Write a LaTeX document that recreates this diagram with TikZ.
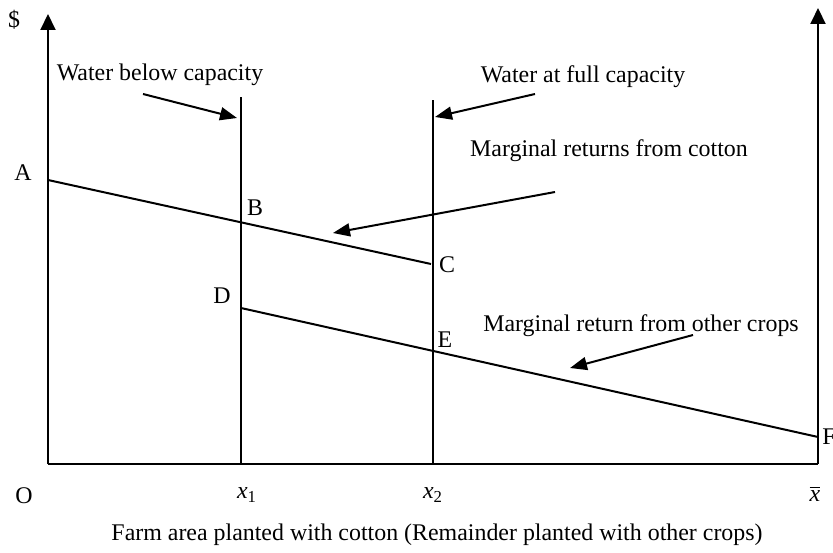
\documentclass[tikz,border=0pt]{standalone}
\usepackage{fontspec}
\setmainfont{Liberation Serif}
\usetikzlibrary{arrows.meta}

\tikzset{
    curve/.style={line width=1pt, black},
    axis/.style={line width=1pt, -{Triangle[length=8pt,width=7.5pt]}},
    pointer/.style={line width=1pt, -{Triangle[length=8.5pt,width=6.5pt]}},
    lbl/.style={inner sep=0pt, font=\fontsize{11.95}{14}\selectfont}
}

\begin{document}
\begin{tikzpicture}[x=0.5pt,y=0.5pt]
    \useasboundingbox (0,0) rectangle (833,552);
    \begin{scope}
        % axes
        \coordinate (O) at (48,88);
        \coordinate (ytop) at (48,538);
        \coordinate (xend) at (818,88);
        \coordinate (rtop) at (818,544);
        \draw[axis] (O) -- (ytop);
        \draw[axis] (xend) -- (rtop);
        \draw[curve] (O) -- (xend);

        % water lines
        \coordinate (xa) at (241,88);
        \coordinate (xatop) at (241,455);
        \coordinate (xb) at (433,88);
        \coordinate (xbtop) at (433,452);
        \draw[curve] (xa) -- (xatop);
        \draw[curve] (xb) -- (xbtop);

        % marginal return curves
        \coordinate (A) at (48,372);
        \coordinate (C) at (431,288);
        \coordinate (D) at (241,244);
        \coordinate (F) at (818,115);
        \draw[curve] (A) -- (C);
        \draw[curve] (D) -- (F);

        % point labels
        \node[lbl] (dollar) at (14,532) {\$};
        \node[lbl] (lA) at (23,379) {A};
        \node[lbl] (lB) at (255,344) {B};
        \node[lbl] (lC) at (447,287) {C};
        \node[lbl] (lD) at (222,256) {D};
        \node[lbl] (lE) at (445,212) {E};
        \node[lbl, anchor=west] (lF) at (822,115) {F};
        \node[lbl] (lO) at (24,56) {O};
        \node[lbl] (lx1) at (247,57) {\textit{x}\textsubscript{1}};
        \node[lbl] (lx2) at (433,57) {\textit{x}\textsubscript{2}};
        \node[lbl] (lxbar) at (815,58) {$\overline{\hbox{\textit{x}}}$};
        \node[lbl] (caption) at (437,17) {Farm area planted with cotton (Remainder planted with other crops)};

        % text labels
        \node[lbl] (below) at (160,477) {Water below capacity};
        \node[lbl] (full) at (583,475) {Water at full capacity};
        \node[lbl] (cotton) at (609,401) {Marginal returns from cotton};
        \node[lbl] (other) at (641,226) {Marginal return from other crops};

        % draw arrow
        \coordinate (belowtail) at (143,458);
        \coordinate (belowtip) at (237,434);
        \coordinate (fulltail) at (535,458);
        \coordinate (fulltip) at (435,435);
        \coordinate (cottontail) at (555,360);
        \coordinate (cottontip) at (333,319);
        \coordinate (othertail) at (693,217);
        \coordinate (othertip) at (570,184);
        \draw[pointer] (belowtail) -- (belowtip);
        \draw[pointer] (fulltail) -- (fulltip);
        \draw[pointer] (cottontail) -- (cottontip);
        \draw[pointer] (othertail) -- (othertip);
    \end{scope}
\end{tikzpicture}
\end{document}
